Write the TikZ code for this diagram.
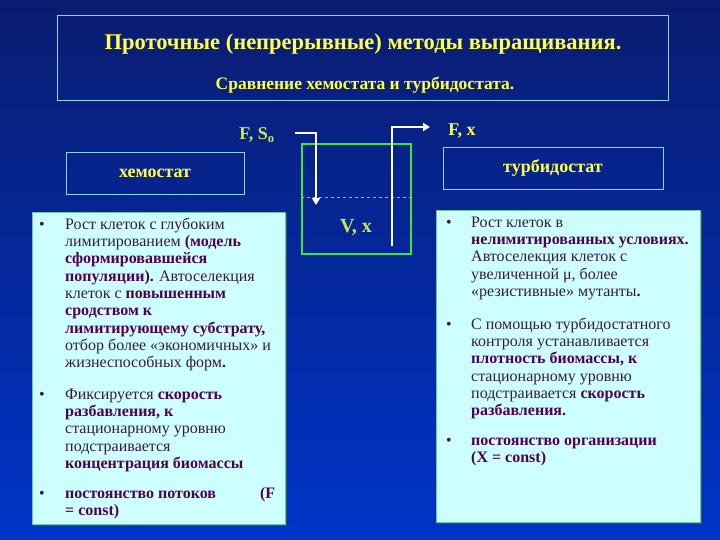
\documentclass[tikz,border=0pt]{standalone}
\usepackage{fontspec}
\setmainfont{Liberation Serif}
\usetikzlibrary{positioning,arrows.meta}
\definecolor{bgtop}{RGB}{10,28,112}
\definecolor{bgbot}{RGB}{0,52,200}
\definecolor{frame}{RGB}{140,215,235}
\definecolor{ttl}{RGB}{255,255,70}
\definecolor{lime}{RGB}{200,232,80}
\definecolor{panel}{RGB}{205,255,255}
\definecolor{panelrim}{RGB}{110,200,150}
\definecolor{shadowc}{RGB}{40,90,110}
\definecolor{txt}{RGB}{55,25,65}
\definecolor{txtb}{RGB}{80,0,80}
\definecolor{vessel}{RGB}{60,230,60}
\definecolor{level}{RGB}{110,190,255}
\newcommand{\hb}[1]{\textbf{\color{txtb}#1}}

\begin{document}
\begin{tikzpicture}[x=1pt,y=-1pt,
    hdr/.style={draw=frame,line width=0.9pt},
    lbl/.style={text=ttl,font=\bfseries\fontsize{18}{20}\selectfont},
    panelbox/.style={fill=panel,draw=panelrim,line width=0.8pt},
    bodytxt/.style={anchor=north west,inner sep=0pt,align=left,text=txt,font=\fontsize{16}{17.3}\selectfont},
    dot/.style={anchor=north west,inner sep=0pt,text=txt,font=\fontsize{16}{17.3}\selectfont},
    flow/.style={white,line width=2.6pt,-{Triangle[length=7pt,width=8pt]}}]
  \shade[top color=bgtop,bottom color=bgbot] (0,0) rectangle (720,540);
  \draw[hdr] (57,15) rectangle (668,100);
  \node[text=ttl,font=\bfseries\fontsize{22.5}{25}\selectfont] (title) at (363,44) {Проточные (непрерывные) методы выращивания.};
  \node[text=ttl,font=\bfseries\fontsize{17.5}{20}\selectfont] (subtitle) at (365,85) {Сравнение хемостата и турбидостата.};

  \node[hdr,lbl,minimum width=178pt,minimum height=42pt] (chemo) at (155,173) {хемостат};
  \node[hdr,lbl,minimum width=220pt,minimum height=42pt] (turbo) at (553,168) {турбидостат};

  \node[draw=vessel,line width=1.8pt,minimum width=109pt,minimum height=110pt,inner sep=0pt] (vessel) at (356.5,199) {};
  \draw[level,dashed,line width=0.8pt] (vessel.west |- 0,197) -- (vessel.east |- 0,197);
  \node[lbl,text=lime,font=\bfseries\fontsize{20}{22}\selectfont] (vx) at (356,228) {V, x};
  \node[lbl,text=lime] (fs) at (257,135) {F, S\textsubscript{o}};
  \node[lbl] (fx) at (462,131) {F, x};
  \coordinate (feed) at (295,133);
  \coordinate (feedend) at (316,205);
  \coordinate (drain) at (392,246);
  \coordinate (drainend) at (430,127);
  \draw[flow] (feed) -| (feedend);
  \draw[flow] (drain) |- (drainend);

  \fill[shadowc] (34,214) rectangle (287,526);
  \draw[panelbox] (32,212) rectangle (285,524);
  \fill[shadowc] (438,212) rectangle (702,524);
  \draw[panelbox] (436,210) rectangle (700,522);

  \node[dot] (lb1) at (39,217) {\strut•};
  \node[bodytxt] (lt1) at (65,217) {\strut Рост  клеток с глубоким\\
    лимитированием \hb{(модель}\\
    \hb{сформировавшейся}\\
    \hb{популяции).}  Автоселекция\\
    клеток с \hb{повышенным}\\
    \hb{сродством к}\\
    \hb{лимитирующему субстрату,}\\
    отбор более «экономичных» и\\
    жизнеспособных форм\hb{.}};
  \node[dot] (lb2) at (39,387) {\strut•};
  \node[bodytxt] (lt2) at (65,387) {\strut Фиксируется \hb{скорость}\\
    \hb{разбавления, к}\\
    стационарному уровню\\
    подстраивается\\
    \hb{концентрация биомассы}};
  \node[dot] (lb3) at (39,486) {\strut•};
  \node[bodytxt] (lt3) at (65,486) {\strut\hb{постоянство потоков}\hspace{44pt}\hb{(F}\\
    \hb{= const)}};

  \node[dot] (rb1) at (446,215) {\strut•};
  \node[bodytxt] (rt1) at (471,215) {\strut Рост клеток  в\\
    \hb{нелимитированных условиях.}\\
    Автоселекция клеток с\\
    увеличенной μ, более\\
    «резистивные» мутанты\hb{.}};
  \node[dot] (rb2) at (446,317) {\strut•};
  \node[bodytxt] (rt2) at (471,317) {\strut С помощью турбидостатного\\
    контроля устанавливается\\
    \hb{плотность биомассы, к}\\
    стационарному уровню\\
    подстраивается \hb{скорость}\\
    \hb{разбавления.}};
  \node[dot] (rb3) at (446,433) {\strut•};
  \node[bodytxt] (rt3) at (471,433) {\strut\hb{постоянство организации}\\
    \hb{(X = const)}};
\end{tikzpicture}
\end{document}
